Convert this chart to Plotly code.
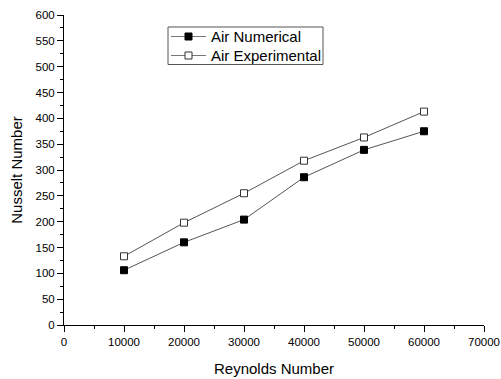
import plotly.graph_objects as go

reynolds = [10000, 20000, 30000, 40000, 50000, 60000]
nu_numerical = [106, 160, 204, 286, 339, 375]
nu_experimental = [133, 198, 255, 318, 363, 413]
series_names = ["Air Numerical", "Air Experimental"]
marker_fills = ["black", "white"]

W, H = 501, 379
ML, MR, MT, MB = 64, 17, 15, 54
PW, PH = W - ML - MR, H - MT - MB

def px(x):
    return (x - ML) / PW

def py(y):
    return (H - MB - y) / PH

fig = go.Figure()
for name, vals, fill in zip(series_names, [nu_numerical, nu_experimental], marker_fills):
    fig.add_trace(go.Scatter(
        x=reynolds, y=vals, mode="lines+markers", name=name,
        line=dict(color="#555555", width=1),
        marker=dict(symbol="square", size=7, color=fill,
                    line=dict(color="black" if fill == "black" else "#333333", width=1)),
        showlegend=False,
    ))

axis_common = dict(
    showline=True, linecolor="black", linewidth=1, mirror=False,
    ticks="outside", ticklen=6, tickwidth=1, tickcolor="black",
    showgrid=False, zeroline=False, tickformat="d", ticklabeloverflow="allow",
    automargin=False,
    tickfont=dict(family="Liberation Sans, Arial", size=11.5, color="black"),
    title_font=dict(family="Liberation Sans, Arial", size=15, color="black"),
)

fig.update_xaxes(
    range=[0, 70000], tick0=0, dtick=10000,
    minor=dict(ticks="outside", ticklen=3, dtick=5000, tickcolor="black", showgrid=False),
    title_text="Reynolds Number", title_standoff=16, **axis_common,
)
fig.update_yaxes(
    range=[0, 600], tick0=0, dtick=50,
    minor=dict(ticks="outside", ticklen=3, dtick=25, tickcolor="black", showgrid=False),
    title_text="Nusselt Number", title_standoff=9, **axis_common,
)

# Manual legend (box, sample lines, markers, labels)
shapes = [dict(type="rect", xref="paper", yref="paper",
               x0=px(168), x1=px(323), y0=py(64.5), y1=py(27),
               line=dict(color="#555555", width=1), fillcolor="white", layer="above")]
annotations = []
row_y = [36.5, 55.5]
for name, fill, ry in zip(series_names, marker_fills, row_y):
    shapes.append(dict(type="line", xref="paper", yref="paper",
                       x0=px(171), x1=px(206), y0=py(ry), y1=py(ry),
                       line=dict(color="#777777", width=1), layer="above"))
    shapes.append(dict(type="rect", xref="paper", yref="paper",
                       x0=px(185), x1=px(192), y0=py(ry + 3.5), y1=py(ry - 3.5),
                       line=dict(color="black" if fill == "black" else "#333333", width=1),
                       fillcolor=fill, layer="above"))
    annotations.append(dict(text=name, xref="paper", yref="paper",
                            x=px(209), y=py(ry), xanchor="left", yanchor="middle",
                            showarrow=False,
                            font=dict(family="Liberation Sans, Arial", size=15, color="black")))

fig.update_layout(
    width=W, height=H,
    margin=dict(l=ML, r=MR, t=MT, b=MB),
    paper_bgcolor="white", plot_bgcolor="white",
    showlegend=False,
    shapes=shapes, annotations=annotations,
)

fig.write_html("out.html")
